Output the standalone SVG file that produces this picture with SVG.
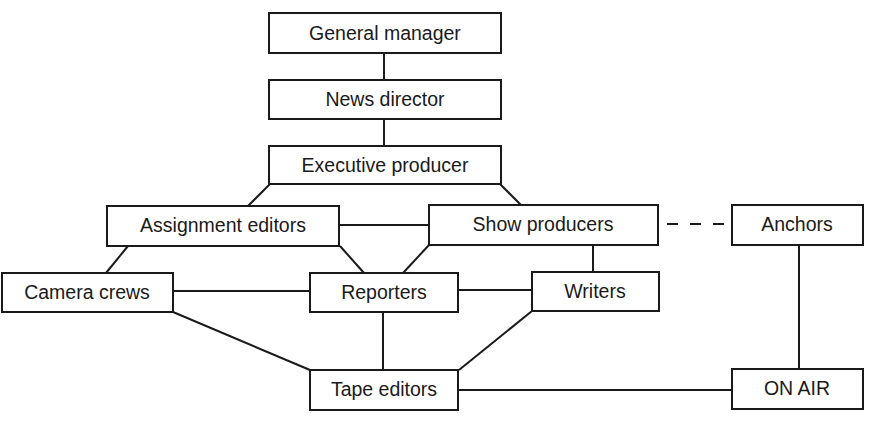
<svg xmlns="http://www.w3.org/2000/svg" width="872" height="422" viewBox="0 0 872 422">
<style>
.box{fill:#fff;stroke:#1a1a1a;stroke-width:2}
.lbl{font-family:"Liberation Sans",Arial,sans-serif;font-size:19.5px;fill:#1a1a1a;text-anchor:middle}
.c{stroke:#1a1a1a;stroke-width:2;fill:none}
.d{stroke-dasharray:11 12}
</style>
<rect width="872" height="422" fill="#fff"/>
<g id="connectors">
<line class="c" x1="384" y1="53" x2="384" y2="80"/>
<line class="c" x1="384" y1="119" x2="384" y2="146"/>
<line class="c" x1="270" y1="184" x2="248" y2="206"/>
<line class="c" x1="500" y1="184" x2="521" y2="205"/>
<line class="c" x1="339" y1="225" x2="429" y2="225"/>
<line class="c d" x1="667" y1="224" x2="730" y2="224"/>
<line class="c" x1="128" y1="246" x2="106" y2="273"/>
<line class="c" x1="340" y1="246" x2="364" y2="273"/>
<line class="c" x1="429" y1="245" x2="403" y2="273"/>
<line class="c" x1="593" y1="245" x2="593" y2="272"/>
<line class="c" x1="173" y1="291" x2="310" y2="291"/>
<line class="c" x1="458" y1="290" x2="532" y2="290"/>
<line class="c" x1="173" y1="312" x2="310" y2="370"/>
<line class="c" x1="383" y1="312" x2="383" y2="370"/>
<line class="c" x1="532" y1="311" x2="459" y2="370"/>
<line class="c" x1="458" y1="390" x2="732" y2="390"/>
<line class="c" x1="799" y1="245" x2="799" y2="369"/>
</g>
<g id="general-manager"><rect class="box" x="269" y="13" width="232" height="40"/><text class="lbl" x="385" y="40">General manager</text></g>
<g id="news-director"><rect class="box" x="269" y="80" width="232" height="39"/><text class="lbl" x="385" y="106">News director</text></g>
<g id="executive-producer"><rect class="box" x="269" y="146" width="232" height="38"/><text class="lbl" x="385" y="172">Executive producer</text></g>
<g id="assignment-editors"><rect class="box" x="107" y="206" width="232" height="40"/><text class="lbl" x="223" y="232">Assignment editors</text></g>
<g id="show-producers"><rect class="box" x="429" y="205" width="229" height="40"/><text class="lbl" x="543" y="231">Show producers</text></g>
<g id="anchors"><rect class="box" x="732" y="205" width="131" height="40"/><text class="lbl" x="797" y="231">Anchors</text></g>
<g id="camera-crews"><rect class="box" x="2" y="273" width="171" height="39"/><text class="lbl" x="87" y="299">Camera crews</text></g>
<g id="reporters"><rect class="box" x="310" y="273" width="148" height="39"/><text class="lbl" x="384" y="299">Reporters</text></g>
<g id="writers"><rect class="box" x="532" y="272" width="127" height="39"/><text class="lbl" x="595" y="298">Writers</text></g>
<g id="tape-editors"><rect class="box" x="310" y="370" width="148" height="40"/><text class="lbl" x="384" y="396">Tape editors</text></g>
<g id="on-air"><rect class="box" x="732" y="369" width="131" height="40"/><text class="lbl" x="797" y="395">ON AIR</text></g>
</svg>
